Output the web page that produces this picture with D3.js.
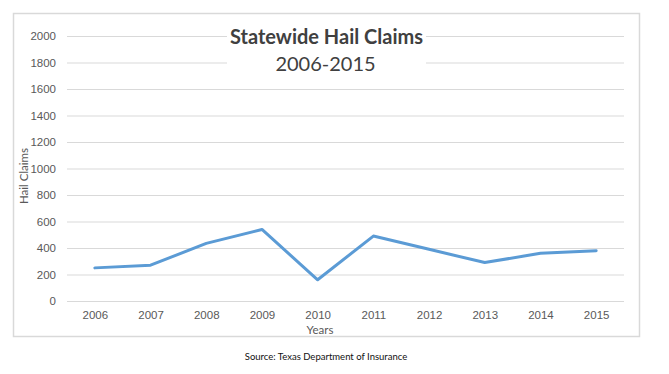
<!DOCTYPE html>
<html>
<head>
<meta charset="utf-8">
<script src="https://cdn.jsdelivr.net/npm/d3@7"></script>
<style>
  body { margin: 0; background: #fff; }
  svg { display: block; font-family: Lato, "Open Sans", sans-serif; }
</style>
</head>
<body>
<div id="chart"></div>
<script>
'use strict';

const years = ["2006", "2007", "2008", "2009", "2010", "2011", "2012", "2013", "2014", "2015"];
const claims = [250, 270, 435, 540, 160, 490, 390, 290, 360, 380];
const yTicks = [0, 200, 400, 600, 800, 1000, 1200, 1400, 1600, 1800, 2000];

const width = 669, height = 374;
const plot = { left: 67, right: 624, top: 36, bottom: 301 };

const svg = d3.select("#chart").append("svg")
    .attr("width", width)
    .attr("height", height);

// chart frame
svg.append("rect")
    .attr("x", 13.5).attr("y", 13.5)
    .attr("width", 626).attr("height", 323)
    .attr("fill", "#fff")
    .attr("stroke", "#d9d9d9")
    .attr("stroke-width", 1.5);

const x = d3.scalePoint()
    .domain(years)
    .range([plot.left, plot.right])
    .padding(0.5);

const y = d3.scaleLinear()
    .domain([0, 2000])
    .range([plot.bottom, plot.top]);

// gridlines + y labels
const yAxis = svg.append("g")
    .attr("transform", "translate(" + plot.left + ",0)")
    .call(d3.axisLeft(y).tickValues(yTicks).tickFormat(d3.format("d"))
        .tickSize(-(plot.right - plot.left)).tickPadding(11));
yAxis.select(".domain").remove();
yAxis.selectAll(".tick line").attr("stroke", "#d9d9d9").attr("stroke-width", 1);
yAxis.selectAll(".tick text")
    .attr("fill", "#595959")
    .style("font-size", "11.5px");

// x labels
const xAxis = svg.append("g")
    .attr("transform", "translate(0," + plot.bottom + ")")
    .call(d3.axisBottom(x).tickSize(0).tickPadding(10));
xAxis.select(".domain").remove();
xAxis.selectAll(".tick text")
    .attr("fill", "#595959")
    .style("font-size", "11.5px");

// line
const line = d3.line()
    .x((d, i) => x(years[i]))
    .y(d => y(d));

svg.append("path")
    .datum(claims)
    .attr("d", line)
    .attr("fill", "none")
    .attr("stroke", "#5b9bd5")
    .attr("stroke-width", 3)
    .attr("stroke-linejoin", "round")
    .attr("stroke-linecap", "round");

// title box over the gridlines
svg.append("rect")
    .attr("x", 227).attr("y", 24)
    .attr("width", 199).attr("height", 56)
    .attr("fill", "#fff");

svg.append("text")
    .attr("x", 326.5).attr("y", 43.5)
    .attr("text-anchor", "middle")
    .attr("fill", "#404040")
    .style("font-size", "20px")
    .style("font-weight", "bold")
    .text("Statewide Hail Claims");

svg.append("text")
    .attr("x", 325.5).attr("y", 71)
    .attr("text-anchor", "middle")
    .attr("fill", "#404040")
    .style("font-size", "20px")
    .text("2006-2015");

// axis titles
svg.append("text")
    .attr("transform", "translate(28,176) rotate(-90)")
    .attr("text-anchor", "middle")
    .attr("fill", "#595959")
    .style("font-size", "11.5px")
    .text("Hail Claims");

svg.append("text")
    .attr("x", 320).attr("y", 334)
    .attr("text-anchor", "middle")
    .attr("fill", "#595959")
    .style("font-size", "11.5px")
    .text("Years");

svg.append("text")
    .attr("x", 326).attr("y", 360)
    .attr("text-anchor", "middle")
    .attr("fill", "#111")
    .style("font-size", "9.5px")
    .text("Source: Texas Department of Insurance");
</script>
</body>
</html>
